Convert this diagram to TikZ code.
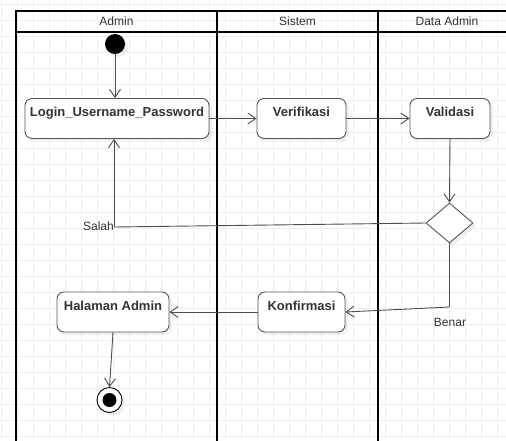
\documentclass[tikz,border=0pt]{standalone}
\usepackage{fontspec}
\setmainfont{Liberation Sans}
\usetikzlibrary{arrows.meta,shapes.geometric,shadows}
\definecolor{gridc}{HTML}{EFEFEF}
\definecolor{edgec}{HTML}{4D4D4D}
\definecolor{txtc}{HTML}{333333}
\definecolor{boxc}{HTML}{555555}
\tikzset{
  soft/.style={drop shadow={opacity=0.12,shadow xshift=3pt,shadow yshift=-3pt}},
  actbox/.style={draw=boxc,line width=0.9pt,fill=white,rounded corners=7pt,soft,
    inner xsep=0pt,inner ysep=0pt,text height=18pt,text depth=22pt,
    font=\fontsize{13}{15}\selectfont\bfseries,text=txtc},
  decide/.style={diamond,draw=boxc,line width=0.9pt,fill=white,soft,inner sep=0pt,
    minimum width=47pt,minimum height=40pt},
  flow/.style={draw=edgec,line width=0.9pt,-{Straight Barb[length=8pt,width=11pt]}},
  plain/.style={draw=edgec,line width=0.9pt},
  lane/.style={draw=black,line width=1.6pt},
  lanehead/.style={font=\fontsize{12}{14}\selectfont,text=txtc},
  guard/.style={font=\fontsize{12}{14}\selectfont,text=txtc,inner sep=0pt}
}
\begin{document}
\begin{tikzpicture}[x=1pt,y=-1pt]
\useasboundingbox (0,0) rectangle (506,440);
\fill[white] (0,0) rectangle (506,440);
% background grid
\foreach \gx in {1,17,...,505} \draw[gridc,line width=0.8pt] (\gx,0) -- (\gx,440);
\foreach \gy in {4,20,...,436} \draw[gridc,line width=0.8pt] (0,\gy) -- (506,\gy);

% swimlanes
\begin{scope}
\clip (0,0) rectangle (506,440);
\draw[lane] (16,450) -- (16,10.7) -- (520,10.7);
\draw[lane] (16,31.7) -- (520,31.7);
\draw[lane] (217,10.7) -- (217,450);
\draw[lane] (378,10.7) -- (378,450);
\end{scope}
\node[lanehead] (hadmin) at (116.5,21) {Admin};
\node[lanehead] (hsistem) at (297.5,21) {Sistem};
\node[lanehead] (hdata) at (447,21) {Data Admin};

% activities
\node[circle,fill=black,minimum size=20pt,inner sep=0pt,soft] (start) at (115,44) {};
\node[actbox,minimum width=184pt] (login) at (117,118.5) {Login\_Username\_Password};
\node[actbox,minimum width=89pt] (verif) at (301.5,118.5) {Verifikasi};
\node[actbox,minimum width=80pt] (valid) at (450,118.5) {Validasi};
\node[decide] (cek) at (449.5,223) {};
\node[actbox,minimum width=87pt] (konf) at (301.5,312) {Konfirmasi};
\node[actbox,minimum width=112pt] (halaman) at (113,312) {Halaman Admin};
\node[circle,draw=black,line width=0.9pt,fill=white,minimum size=25pt,inner sep=0pt,soft] (stop) at (109.5,400) {};
\node[circle,fill=black,minimum size=14pt,inner sep=0pt] (stopdot) at (stop.center) {};

\coordinate (salahc) at (114,227);
\coordinate (benarc) at (449.5,307);

% connectors
\draw[flow] (start.south) -- (start.south |- login.north);
\draw[flow] (login.east) -- (verif.west);
\draw[flow] (verif.east) -- (valid.west);
\draw[flow] (valid.south) -- (cek.north);
\draw[plain] (cek.west) -- (salahc);
\draw[flow] (salahc) -- (salahc |- login.south);
\draw[plain] (cek.south) -- (benarc);
\draw[flow] (benarc) -- (konf.east);
\draw[flow] (konf.west) -- (halaman.east);
\draw[flow] (halaman.south) -- (stop.north);

% guards
\node[guard,anchor=east] (lsalah) at (114,226.5) {Salah};
\node[guard] (lbenar) at (450,322) {Benar};
\end{tikzpicture}
\end{document}
